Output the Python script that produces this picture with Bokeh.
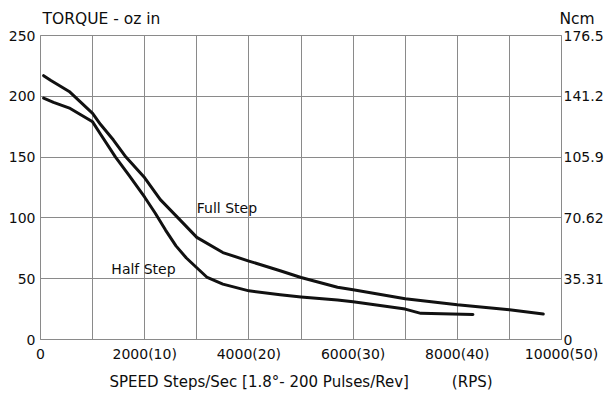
from bokeh.plotting import figure
from bokeh.models import Range1d, LinearAxis, FixedTicker, ColumnDataSource
from bokeh.core.properties import value
from bokeh.embed import file_html
from bokeh.resources import INLINE

# ---- data ----
full_speed = [60, 200, 550, 1000, 1150, 1400, 1640, 2000, 2300, 2640, 3000, 3500, 4000,
              4600, 5000, 5700, 6000, 7000, 8000, 9000, 9650]
full_torque = [217, 213, 204, 186, 177, 164, 150, 133, 115, 100, 84, 71.5, 64.5,
               56.5, 51, 43, 41, 33.5, 28.5, 24.5, 21]
half_speed = [60, 250, 570, 1000, 1150, 1440, 1700, 2000, 2200, 2400, 2600, 2800, 3000,
              3200, 3500, 4000, 4600, 5000, 5700, 6000, 7000, 7300, 8300]
half_torque = [198.5, 195, 190, 179, 169, 150, 135, 117, 104, 90, 77, 67, 59,
               51, 45.5, 40, 36.8, 35, 32.5, 31, 25, 21.5, 20.5]

x_ticks = [0, 2000, 4000, 6000, 8000, 10000]
x_tick_labels = ["0", "2000(10)", "4000(20)", "6000(30)", "8000(40)", "10000(50)"]
x_grid = [0, 1000, 2000, 3000, 4000, 5000, 6000, 7000, 8000, 9000, 10000]
y_ticks = [0, 50, 100, 150, 200, 250]
ncm_ticks = [0, 35.31, 70.62, 105.9, 141.2, 176.5]
ncm_labels = ["0", "35.31", "70.62", "105.9", "141.2", "176.5"]

curve_labels = ["Full Step", "Half Step"]
label_x = [3000, 1360]
label_y = [108, 58]

left_title = "TORQUE - oz in"
right_title = "Ncm"
x_title = "SPEED Steps/Sec [1.8\u00b0- 200 Pulses/Rev]"
x_unit = "(RPS)"

FONT = "DejaVu Sans"
TXT = "#0d0d0d"
GRID = "#8a8a8a"

p = figure(width=606, height=396, output_backend="svg", toolbar_location=None,
           x_range=Range1d(0, 10000), y_range=Range1d(0, 250),
           min_border_left=40, min_border_right=43, min_border_top=33, min_border_bottom=57)
p.extra_y_ranges = {"ncm": Range1d(0, 176.5)}

p.title.text = left_title + "\u00a0" * 81 + right_title
p.title.text_font = FONT
p.title.text_font_size = "15.5px"
p.title.text_font_style = "normal"
p.title.text_color = TXT
p.title.align = "left"
p.title.offset = 2
p.title.standoff = 15

p.outline_line_color = GRID
p.outline_line_width = 1

# x axis
xa = p.xaxis[0]
xa.ticker = FixedTicker(ticks=x_ticks)
xa.major_label_overrides = {t: l for t, l in zip(x_ticks, x_tick_labels)}
xa.axis_label = x_title + "\u00a0" * 9 + x_unit
xa.axis_label_text_font = FONT
xa.axis_label_text_font_size = "15px"
xa.axis_label_text_font_style = "normal"
xa.axis_label_text_color = TXT
xa.axis_label_standoff = 8

# left y axis
ya = p.yaxis[0]
ya.ticker = FixedTicker(ticks=y_ticks)

# right axis
ra = LinearAxis(y_range_name="ncm", ticker=FixedTicker(ticks=ncm_ticks))
ra.major_label_overrides = {t: l for t, l in zip(ncm_ticks, ncm_labels)}
p.add_layout(ra, "right")

for ax in (xa, ya, ra):
    ax.major_label_text_font = FONT
    ax.major_label_text_font_size = "14px"
    ax.major_label_text_color = TXT
    ax.major_tick_line_color = None
    ax.minor_tick_line_color = None
    ax.major_tick_out = 0
    ax.major_tick_in = 0
    ax.minor_tick_out = 0
    ax.axis_line_color = GRID
xa.major_label_standoff = 6
ya.major_label_standoff = 5
ra.major_label_standoff = 2

p.xgrid.ticker = FixedTicker(ticks=x_grid)
p.ygrid.ticker = FixedTicker(ticks=y_ticks)
for g in (p.xgrid[0], p.ygrid[0]):
    g.grid_line_color = GRID
    g.grid_line_width = 1

p.line(full_speed, full_torque, line_color="#111111", line_width=3, line_join="round", line_cap="round")
p.line(half_speed, half_torque, line_color="#111111", line_width=3, line_join="round", line_cap="round")

src = ColumnDataSource(dict(x=label_x, y=label_y, t=curve_labels))
p.text(x="x", y="y", text="t", source=src, text_font=value(FONT), text_font_size="14px",
       text_color=TXT, text_baseline="middle", text_align="left")

p.background_fill_color = "white"
p.border_fill_color = "white"

open("out.html", "w").write(file_html(p, INLINE))
